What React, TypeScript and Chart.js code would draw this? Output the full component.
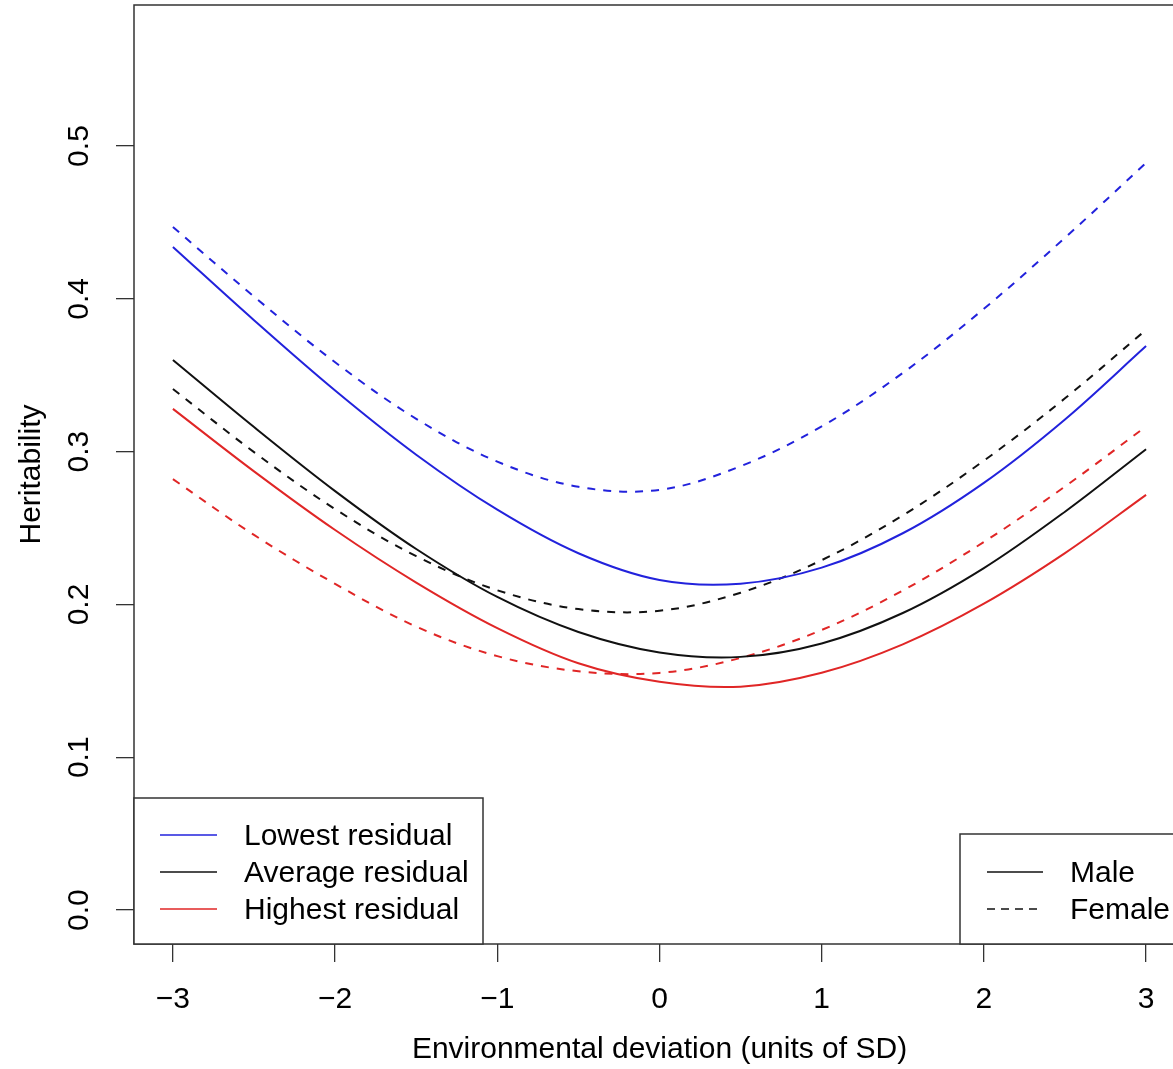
import { useEffect, useRef } from 'react';
import { Chart, registerables } from 'chart.js';

Chart.register(...registerables);

// ---- data ----
const envDeviation = [-3, -2.5, -2, -1.5, -1, -0.5, 0, 0.5, 1, 1.5, 2, 2.5, 3];
const lowestMale = [0.434, 0.386, 0.34, 0.298, 0.262, 0.2335, 0.216, 0.2136, 0.2241, 0.2466, 0.2796, 0.3211, 0.3691];
const lowestFemale = [0.447, 0.4015, 0.3585, 0.3215, 0.2935, 0.277, 0.275, 0.2905, 0.3165, 0.3515, 0.3935, 0.44, 0.489];
const averageMale = [0.36, 0.3161, 0.2742, 0.2363, 0.2049, 0.182, 0.1686, 0.1657, 0.1745, 0.1944, 0.2238, 0.2607, 0.3016];
const averageFemale = [0.341, 0.2997, 0.2624, 0.2316, 0.2093, 0.197, 0.1959, 0.2077, 0.229, 0.2583, 0.2941, 0.3349, 0.3797];
const highestMale = [0.328, 0.2871, 0.2487, 0.2143, 0.1845, 0.1615, 0.1494, 0.1462, 0.1553, 0.1739, 0.2005, 0.2336, 0.2717];
const highestFemale = [0.282, 0.2455, 0.2135, 0.1855, 0.1662, 0.1563, 0.1552, 0.165, 0.1833, 0.2091, 0.2409, 0.2772, 0.3165];

const xTicks = [-3, -2, -1, 0, 1, 2, 3];
const yTicks = [0, 0.1, 0.2, 0.3, 0.4, 0.5];
const residualLabels = ['Lowest residual', 'Average residual', 'Highest residual'];
const sexLabels = ['Male', 'Female'];
const xTitle = 'Environmental deviation (units of SD)';
const yTitle = 'Heritability';

// ---- styles ----
const FONT = '"Liberation Sans", Arial, Helvetica, sans-serif';
const BLUE = '#2222dc';
const BLACK = '#111111';
const RED = '#e02626';
const AXIS = '#333333';
const residualColors = [BLUE, BLACK, RED];

export default function App() {
  const ref = useRef<HTMLCanvasElement>(null);

  useEffect(() => {
    document.body.style.margin = '0';
    const canvas = ref.current;
    if (!canvas) return;

    const mk = (label: string, arr: number[], color: string, dashed: boolean) => ({
      label,
      data: envDeviation.map((x, i) => ({ x, y: arr[i] })),
      borderColor: color,
      backgroundColor: color,
      borderWidth: 2,
      borderDash: dashed ? [8, 8] : [],
      pointRadius: 0,
      pointHoverRadius: 0,
      tension: 0.35,
      fill: false,
    });

    const datasets = [
      mk('Lowest residual, male', lowestMale, BLUE, false),
      mk('Lowest residual, female', lowestFemale, BLUE, true),
      mk('Average residual, male', averageMale, BLACK, false),
      mk('Average residual, female', averageFemale, BLACK, true),
      mk('Highest residual, male', highestMale, RED, false),
      mk('Highest residual, female', highestFemale, RED, true),
    ];

    const boxLegendPlugin = {
      id: 'boxLegend',
      afterDraw(chart: any) {
        const ctx = chart.ctx as CanvasRenderingContext2D;
        const ca = chart.chartArea;
        ctx.save();
        // plot box
        ctx.strokeStyle = AXIS;
        ctx.lineWidth = 1.5;
        ctx.setLineDash([]);
        ctx.strokeRect(ca.left, ca.top, ca.right - ca.left, ca.bottom - ca.top);

        ctx.font = `30px ${FONT}`;
        ctx.textBaseline = 'middle';
        ctx.textAlign = 'left';

        // left legend (residual)
        const lw = 349, lh = 146;
        const lx = ca.left, ly = ca.bottom - lh;
        ctx.fillStyle = '#fff';
        ctx.fillRect(lx, ly, lw, lh);
        ctx.strokeStyle = AXIS;
        ctx.lineWidth = 1.5;
        ctx.strokeRect(lx, ly, lw, lh);
        residualLabels.forEach((lab, i) => {
          const y = ly + 37 + i * 37;
          ctx.strokeStyle = residualColors[i];
          ctx.lineWidth = 1.3;
          ctx.beginPath();
          ctx.moveTo(lx + 26, y);
          ctx.lineTo(lx + 83, y);
          ctx.stroke();
          ctx.fillStyle = '#000';
          ctx.fillText(lab, lx + 110, y + 1.5);
        });

        // right legend (sex)
        const rw = 225, rh = 110;
        const rx = ca.right - rw, ry = ca.bottom - rh;
        ctx.fillStyle = '#fff';
        ctx.fillRect(rx, ry, rw, rh);
        ctx.strokeStyle = AXIS;
        ctx.lineWidth = 1.5;
        ctx.strokeRect(rx, ry, rw, rh);
        sexLabels.forEach((lab, i) => {
          const y = ry + 38 + i * 37;
          ctx.strokeStyle = BLACK;
          ctx.lineWidth = 1.3;
          ctx.setLineDash(i === 1 ? [8, 6] : []);
          ctx.beginPath();
          ctx.moveTo(rx + 27, y);
          ctx.lineTo(rx + 83, y);
          ctx.stroke();
          ctx.setLineDash([]);
          ctx.fillStyle = '#000';
          ctx.fillText(lab, rx + 110, y + 1.5);
        });
        ctx.restore();
      },
    };

    const fmtX = (v: any) => {
      const n = Number(v);
      return n < 0 ? '\u2212' + Math.abs(n) : String(n);
    };

    const chart = new Chart(canvas, {
      type: 'line',
      data: { datasets } as any,
      options: {
        animation: false,
        responsive: false,
        devicePixelRatio: 1,
        events: [],
        layout: { padding: { top: 5, right: 15, bottom: 0, left: 0 } },
        plugins: { legend: { display: false }, tooltip: { enabled: false } },
        scales: {
          x: {
            type: 'linear',
            position: 'bottom',
            min: -3.24,
            max: 3.24,
            afterBuildTicks: (s: any) => {
              s.ticks = xTicks.map((v) => ({ value: v }));
            },
            afterFit: (s: any) => {
              s.height = 125;
              s.paddingLeft = 0;
              s.paddingRight = 0;
            },
            ticks: {
              font: { family: FONT, size: 30 },
              color: '#000',
              padding: 20,
              minRotation: 0,
              maxRotation: 0,
              autoSkip: false,
              callback: fmtX,
            },
            grid: { drawOnChartArea: false, drawTicks: true, tickLength: 18, color: AXIS, lineWidth: 1.3 },
            border: { display: false },
            title: {
              display: true,
              text: xTitle,
              font: { family: FONT, size: 30 },
              color: '#000',
              padding: { top: 0, bottom: 1 },
            },
          },
          y: {
            type: 'linear',
            position: 'left',
            min: -0.0222,
            max: 0.5923,
            afterBuildTicks: (s: any) => {
              s.ticks = yTicks.map((v) => ({ value: v }));
            },
            afterFit: (s: any) => {
              s.width = 134;
              s.paddingTop = 0;
              s.paddingBottom = 0;
            },
            ticks: {
              font: { family: FONT, size: 30 },
              color: '#000',
              padding: 15,
              minRotation: 90,
              maxRotation: 90,
              crossAlign: 'center',
              autoSkip: false,
              callback: (v: any) => Number(v).toFixed(1),
            },
            grid: { drawOnChartArea: false, drawTicks: true, tickLength: 18, color: AXIS, lineWidth: 1.3 },
            border: { display: false },
            title: {
              display: true,
              text: yTitle,
              font: { family: FONT, size: 30 },
              color: '#000',
              padding: { top: 14, bottom: 0 },
            },
          },
        },
      } as any,
      plugins: [boxLegendPlugin],
    });

    return () => chart.destroy();
  }, []);

  return (
    <div style={{ width: 1173, height: 1069, overflow: 'hidden', background: '#fff' }}>
      <canvas ref={ref} width={1200} height={1069} style={{ display: 'block' }} />
    </div>
  );
}
